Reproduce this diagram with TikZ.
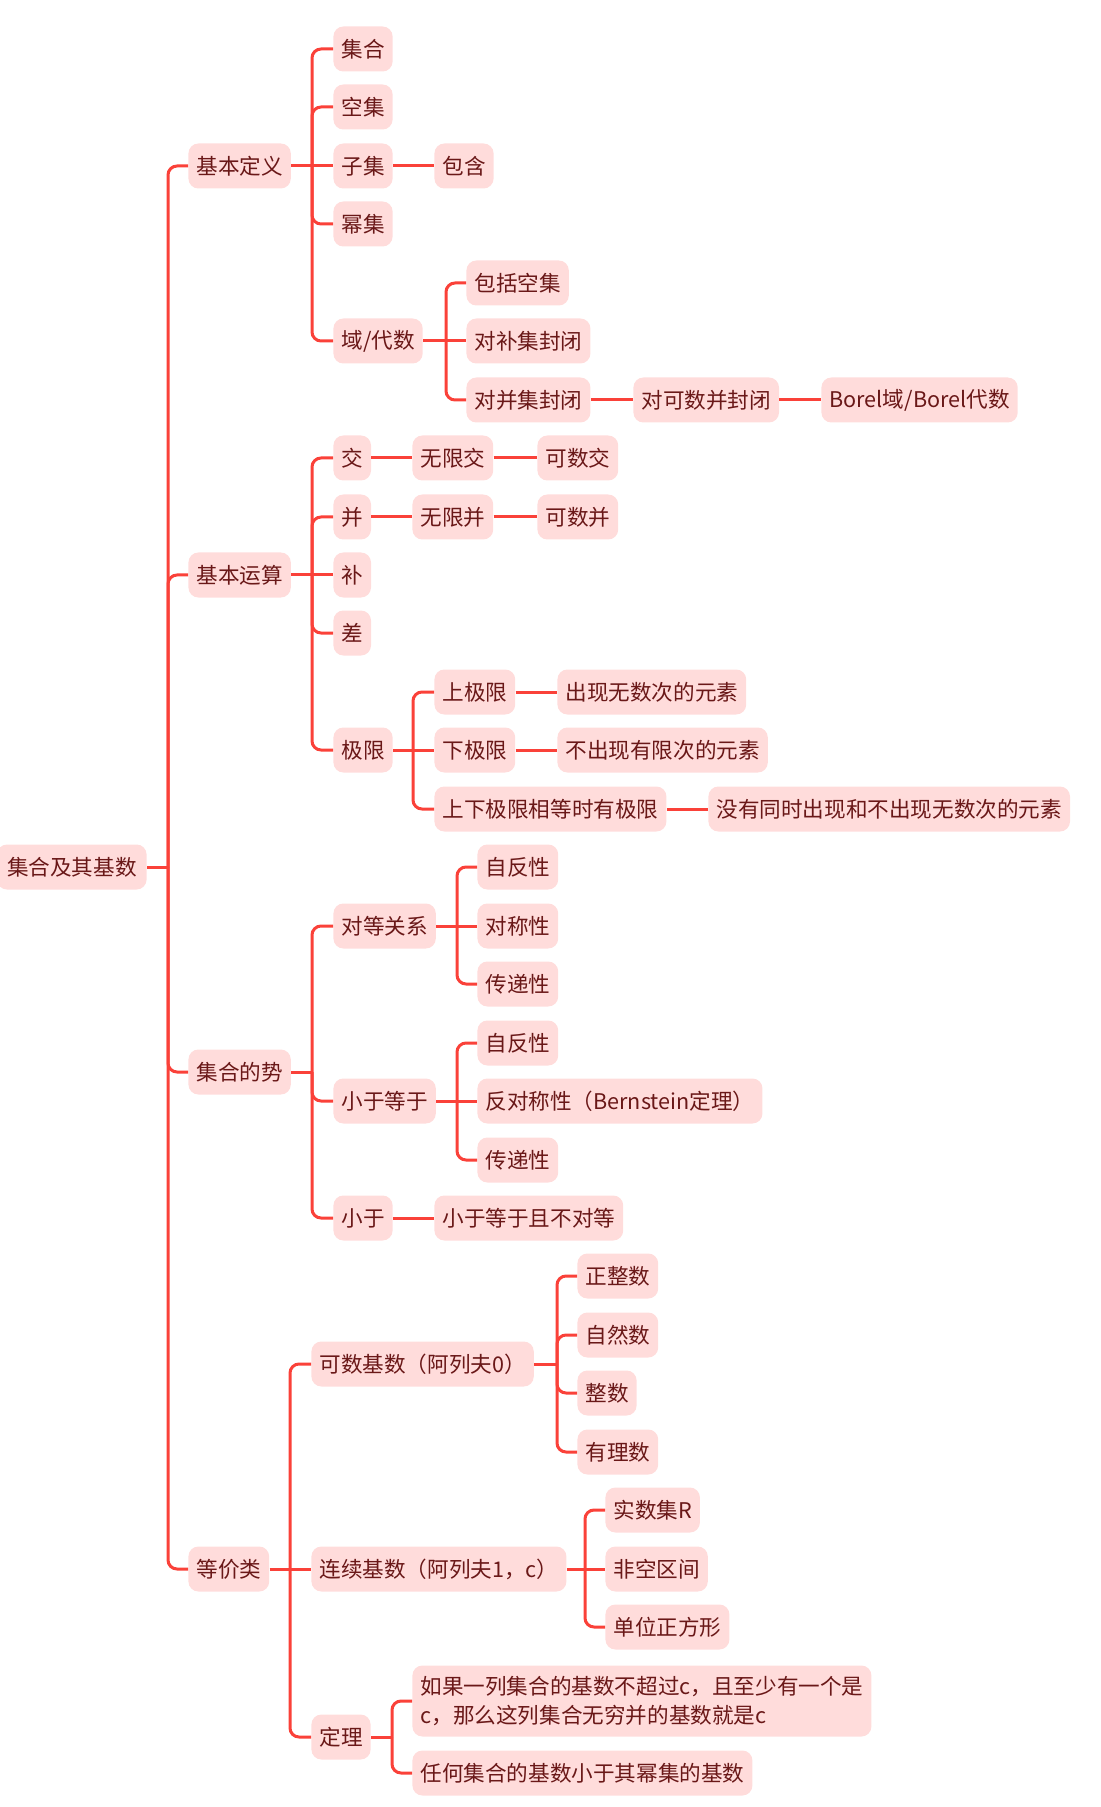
\documentclass[tikz,border=0pt]{standalone}
\usepackage{fontspec}
\setmainfont{Noto Sans CJK SC}
\definecolor{linered}{HTML}{FA4139}
\definecolor{boxpink}{HTML}{FFDCDB}
\definecolor{textred}{HTML}{6A1818}

\begin{document}
\begin{tikzpicture}[
  x=0.5pt, y=-0.5pt,
  font=\fontsize{10.8pt}{14.4pt}\selectfont,
  topic/.style ={rectangle, rounded corners=5pt, fill=boxpink, text=textred, anchor=west,
                 minimum height=22.5pt, inner xsep=4pt, inner ysep=2pt},
  root/.style  ={topic, anchor=east, inner xsep=5pt},
  wide/.style  ={topic, align=left, minimum height=35.5pt},
  link/.style  ={draw=linered, line width=1.5pt, rounded corners=4.5pt},
]
\useasboundingbox (0,-2) rectangle (1100,1805);

% --- Root and first level (x = 188) ---
\node[root]  (root)  at (147, 865)  {集合及其基数};
\node[topic] (def)   at (188, 164)  {基本定义};
\node[topic] (ops)   at (188, 573)  {基本运算};
\node[topic] (card)  at (188, 1070) {集合的势};
\node[topic] (equiv) at (188, 1567) {等价类};

% --- 基本定义 ---
\node[topic] (set)    at (333, 47)  {集合};
\node[topic] (empty)  at (333, 105) {空集};
\node[topic] (sub)    at (333, 164) {子集};
\node[topic] (pow)    at (333, 222) {幂集};
\node[topic] (field)  at (333, 339) {域/代数};
\node[topic] (incl)   at (434, 164) {包含};
\node[topic] (wempty) at (466, 281) {包括空集};
\node[topic] (wcomp)  at (466, 339) {对补集封闭};
\node[topic] (wunion) at (466, 398) {对并集封闭};
\node[topic] (cunion) at (633, 398) {对可数并封闭};
\node[topic] (borel)  at (821, 398) {Borel域/Borel代数};

% --- 基本运算 ---
\node[topic] (cap)     at (333, 456) {交};
\node[topic] (cup)     at (333, 515) {并};
\node[topic] (compl)   at (333, 573) {补};
\node[topic] (diff)    at (333, 631) {差};
\node[topic] (lim)     at (333, 748) {极限};
\node[topic] (icap)    at (412, 456) {无限交};
\node[topic] (ccap)    at (537, 456) {可数交};
\node[topic] (icup)    at (412, 515) {无限并};
\node[topic] (ccup)    at (537, 515) {可数并};
\node[topic] (limsup)  at (434, 690) {上极限};
\node[topic] (liminf)  at (434, 748) {下极限};
\node[topic] (limeq)   at (434, 807) {上下极限相等时有极限};
\node[topic] (limsupd) at (557, 690) {出现无数次的元素};
\node[topic] (liminfd) at (557, 748) {不出现有限次的元素};
\node[topic] (limeqd)  at (708, 807) {没有同时出现和不出现无数次的元素};

% --- 集合的势 ---
\node[topic] (equi)   at (333, 924)  {对等关系};
\node[topic] (leq)    at (333, 1099) {小于等于};
\node[topic] (less)   at (333, 1216) {小于};
\node[topic] (refla)  at (477, 865)  {自反性};
\node[topic] (symm)   at (477, 924)  {对称性};
\node[topic] (transa) at (477, 982)  {传递性};
\node[topic] (reflb)  at (477, 1041) {自反性};
\node[topic] (anti)   at (477, 1099) {反对称性（Bernstein定理）};
\node[topic] (transb) at (477, 1158) {传递性};
\node[topic] (lessd)  at (434, 1216) {小于等于且不对等};

% --- 等价类 ---
\node[topic] (count)  at (311, 1362) {可数基数（阿列夫0）};
\node[topic] (cont)   at (311, 1567) {连续基数（阿列夫1，c）};
\node[topic] (thm)    at (311, 1735) {定理};
\node[topic] (posint) at (577, 1274) {正整数};
\node[topic] (nat)    at (577, 1333) {自然数};
\node[topic] (int)    at (577, 1391) {整数};
\node[topic] (rat)    at (577, 1450) {有理数};
\node[topic] (real)   at (605, 1508) {实数集R};
\node[topic] (ivl)    at (605, 1567) {非空区间};
\node[topic] (sq)     at (605, 1625) {单位正方形};
\node[wide]  (ifc)    at (412, 1699) {如果一列集合的基数不超过c，且至少有一个是\\c，那么这列集合无穷并的基数就是c};
\node[topic] (pset)   at (412, 1771) {任何集合的基数小于其幂集的基数};

% --- Junctions on the trunks ---
\coordinate (rootj)  at (168, 865);
\coordinate (defj)   at (312, 164);
\coordinate (fieldj) at (446, 339);
\coordinate (opsj)   at (312, 573);
\coordinate (limj)   at (413, 748);
\coordinate (cardj)  at (312, 1070);
\coordinate (equij)  at (457, 924);
\coordinate (leqj)   at (457, 1099);
\coordinate (equivj) at (290, 1567);
\coordinate (countj) at (557, 1362);
\coordinate (contj)  at (585, 1567);
\coordinate (thmj)   at (392, 1735);

% --- Connectors ---
\draw[link] (root) -- (rootj);
\draw[link] (rootj) |- (def.west);
\draw[link] (rootj) |- (ops.west);
\draw[link] (rootj) |- (card.west);
\draw[link] (rootj) |- (equiv.west);

\draw[link] (def) -- (defj);
\draw[link] (defj) |- (set.west);
\draw[link] (defj) |- (empty.west);
\draw[link] (defj) -- (sub.west);
\draw[link] (defj) |- (pow.west);
\draw[link] (defj) |- (field.west);
\draw[link] (sub) -- (incl);
\draw[link] (field) -- (fieldj);
\draw[link] (fieldj) |- (wempty.west);
\draw[link] (fieldj) -- (wcomp.west);
\draw[link] (fieldj) |- (wunion.west);
\draw[link] (wunion) -- (cunion);
\draw[link] (cunion) -- (borel);

\draw[link] (ops) -- (opsj);
\draw[link] (opsj) |- (cap.west);
\draw[link] (opsj) |- (cup.west);
\draw[link] (opsj) -- (compl.west);
\draw[link] (opsj) |- (diff.west);
\draw[link] (opsj) |- (lim.west);
\draw[link] (cap) -- (icap);
\draw[link] (icap) -- (ccap);
\draw[link] (cup) -- (icup);
\draw[link] (icup) -- (ccup);
\draw[link] (lim) -- (limj);
\draw[link] (limj) |- (limsup.west);
\draw[link] (limj) -- (liminf.west);
\draw[link] (limj) |- (limeq.west);
\draw[link] (limsup) -- (limsupd);
\draw[link] (liminf) -- (liminfd);
\draw[link] (limeq) -- (limeqd);

\draw[link] (card) -- (cardj);
\draw[link] (cardj) |- (equi.west);
\draw[link] (cardj) |- (leq.west);
\draw[link] (cardj) |- (less.west);
\draw[link] (equi) -- (equij);
\draw[link] (equij) |- (refla.west);
\draw[link] (equij) -- (symm.west);
\draw[link] (equij) |- (transa.west);
\draw[link] (leq) -- (leqj);
\draw[link] (leqj) |- (reflb.west);
\draw[link] (leqj) -- (anti.west);
\draw[link] (leqj) |- (transb.west);
\draw[link] (less) -- (lessd);

\draw[link] (equiv) -- (equivj);
\draw[link] (equivj) |- (count.west);
\draw[link] (equivj) -- (cont.west);
\draw[link] (equivj) |- (thm.west);
\draw[link] (count) -- (countj);
\draw[link] (countj) |- (posint.west);
\draw[link] (countj) |- (nat.west);
\draw[link] (countj) |- (int.west);
\draw[link] (countj) |- (rat.west);
\draw[link] (cont) -- (contj);
\draw[link] (contj) |- (real.west);
\draw[link] (contj) -- (ivl.west);
\draw[link] (contj) |- (sq.west);
\draw[link] (thm) -- (thmj);
\draw[link] (thmj) |- (ifc.west);
\draw[link] (thmj) |- (pset.west);
\end{tikzpicture}
\end{document}
